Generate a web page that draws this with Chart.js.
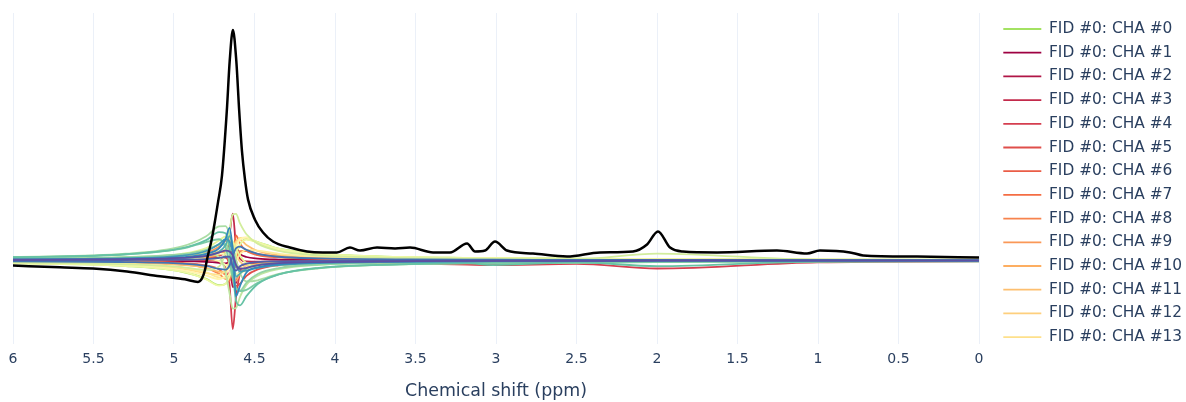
<!DOCTYPE html>
<html>
<head>
<meta charset="utf-8">
<script src="https://cdn.jsdelivr.net/npm/chart.js@4.4.1/dist/chart.umd.min.js"></script>
<style>
  html, body { margin: 0; padding: 0; background: #fff; }
  #wrap { width: 1186px; height: 402px; }
</style>
</head>
<body>
<div id="wrap"><canvas id="spectrum"></canvas></div>
<script>
// chemical shift axis (ppm)
const shiftTicks = [6, 5.5, 5, 4.5, 4, 3.5, 3, 2.5, 2, 1.5, 1, 0.5, 0];
const shiftGrid = [6, 5.3, 4.95, 4.8, 4.72, 4.68, 4.655, 4.635, 4.615, 4.59, 4.55, 4.48, 4.35, 4.1, 3.6, 3.18, 3.02, 2.5, 2.0, 1.0, 0];

// combined spectrum (black), arbitrary units
const shiftBlack = [6.0, 5.708, 5.503, 5.292, 5.087, 4.932, 4.851, 4.826, 4.807, 4.795, 4.766, 4.745, 4.727, 4.702,
  4.672, 4.654, 4.634, 4.613, 4.595, 4.578, 4.559, 4.540, 4.497, 4.447, 4.385, 4.280, 4.174, 4.075, 3.988, 3.907,
  3.845, 3.739, 3.627, 3.534, 3.391, 3.286, 3.180, 3.130, 3.068, 3.006, 2.932, 2.770, 2.559, 2.354, 2.149, 2.062,
  1.994, 1.919, 1.839, 1.627, 1.255, 1.068, 0.988, 0.801, 0.720, 0.385, 0];
const totalSignal = [-2.2, -3.0, -3.5, -4.8, -6.9, -8.2, -9.3, -7.8, -3.9, 0.4, 9.1, 17.3, 25.1, 36.8,
  64.9, 86.6, 100, 86.6, 64.9, 47.6, 35.1, 26.4, 17.7, 12.1, 8.2, 5.6, 3.9, 3.5, 3.5, 5.6,
  4.3, 5.6, 5.2, 5.6, 3.5, 3.5, 7.4, 3.9, 4.3, 8.2, 4.3, 3.0, 1.7, 3.5, 3.9, 6.9,
  12.6, 5.6, 3.9, 3.5, 4.3, 3.0, 4.3, 3.5, 2.2, 1.7, 1.3];

// per-channel spectra on shiftGrid
const chaValues = [
  [-1.2, -2.4, -4.9, -8.0, -10.7, -10.2, -7.4, -3.2, 2.0, 6.9, 9.3, 8.0, 5.1, 2.9, 1.5, 1.1, 1.0, 0.8, 0.6, 0.4, 0.3],
  [-0.1, -0.2, -0.3, -0.6, -1.0, -1.3, -0.5, 5.7, 5.8, 2.9, 1.5, 0.8, 0.4, 0.2, 0.1, 0.1, 0.1, 0.1, 0, 0, 0],
  [0.1, 0.2, 0.4, 0.8, 1.1, 1.2, -1.1, -11.6, -9.6, -4.5, -2.1, -1.0, -0.5, -0.3, -0.2, -0.1, -0.1, -0.1, 0, 0, 0],
  [0.1, 0.2, 0.3, 0.9, 2.0, 4.6, 11.4, 20.3, 6.4, 0.7, -0.4, -0.5, -0.4, -0.2, -0.1, -0.1, -0.1, -0.1, 0, 0, 0],
  [0.1, 0.1, 0.2, 0.1, -0.4, -2.5, -10.6, -29.8, -16.1, -5.6, -2.0, -1.0, -1.0, -1.0, -1.2, -1.8, -2.0, -1.5, -3.5, -0.8, -0.4],
  [0.4, 0.8, 1.5, 2.4, 3.2, 2.1, -1.9, -7.8, -11.1, -10.1, -6.7, -3.9, -2.1, -1.1, -0.5, -0.4, -0.4, -0.2, -0.2, -0.2, -0.1],
  [0.2, 0.3, 0.6, 1.1, 2.2, 3.9, 6.6, 4.6, -3.1, -2.9, -1.9, -1.1, -0.7, -0.4, -0.2, -0.2, -0.1, -0.1, -0.1, 0, 0],
  [-0.3, -0.5, -1.1, -2.2, -3.9, -6.5, -9.1, 0.9, 10.9, 7.3, 4.2, 2.3, 1.3, 0.7, 0.4, 0.3, 0.2, 0.2, 0.1, 0.1, 0.1],
  [-0.4, -0.8, -1.8, -3.3, -5.8, -8.0, -7.9, -4.2, 0.9, 4.0, 4.1, 2.9, 1.7, 1.0, 0.5, 0.4, 0.4, 0.2, 0.2, 0.2, 0.1],
  [0.4, 0.8, 1.8, 3.4, 6.0, 8.5, 8.7, 5.2, 0.0, -3.5, -3.9, -2.8, -1.7, -1.0, -0.5, -0.4, -0.4, -0.2, -0.2, -0.2, -0.1],
  [0.2, 0.4, 0.8, 1.5, 2.6, 4.2, 5.2, -3.2, -8.9, -5.5, -3.0, -1.6, -0.9, -0.5, -0.3, -0.2, -0.1, -0.1, -0.1, -0.1, -0.1],
  [-0.5, -1.0, -1.9, -3.2, -4.9, -5.0, -2.1, 3.7, 8.4, 9.0, 6.7, 4.1, 2.3, 1.2, 0.6, 0.4, 0.4, 0.3, 0.2, 0.2, 0.1],
  [0.4, 0.7, 1.5, 2.6, 3.9, 4.6, 4.8, 4.1, 2.1, -0.5, -2.1, -2.1, -1.4, -0.8, -0.5, -0.3, -0.3, -0.2, -0.2, -0.1, -0.1],
  [-1.0, -1.9, -3.6, -5.5, -6.2, -4.0, -0.2, 3.8, 7.4, 9.8, 9.9, 7.4, 4.4, 2.4, 1.2, 0.9, 0.8, 0.6, 0.5, 0.3, 0.2],
  [-0.7, -1.5, -3.1, -5.2, -7.4, -7.5, -5.8, -3.1, -0.2, 2.7, 4.6, 4.3, 2.9, 1.7, 0.9, 0.7, 0.6, 0.5, 0.4, 0.2, 0.2],
  [-1.1, -2.1, -4.2, -6.6, -8.1, -6.3, -2.5, 1.8, 5.9, 9.1, 10.0, 7.8, 4.8, 2.6, 1.4, 1.0, 0.9, 0.7, 0.5, 0.4, 0.3],
  [0.4, 0.7, 1.4, 2.3, 3.0, 2.6, 1.5, 0.1, -1.4, -2.5, -3.0, -2.5, -1.6, -0.9, -0.5, -0.3, -0.3, -0.2, -0.2, -0.1, -0.1],
  [0.2, 0.4, 0.7, 0.6, -0.3, -2.0, -3.7, -5.0, -5.7, -5.5, -4.4, -2.7, -1.4, -0.7, -0.4, -0.2, -0.2, -0.2, -0.1, -0.1, -0.1],
  [-1.2, -2.4, -4.9, -8.2, -10.9, -10.2, -6.8, -2.2, 2.6, 6.9, 9.0, 7.8, 5.1, 2.9, 1.5, 1.1, 1.0, 0.8, 0.6, 0.4, 0.3],
  [0.6, 1.3, 2.9, 5.4, 8.7, 10.4, 10.0, 8.1, 5.4, 2.0, -1.2, -2.4, -2.0, -1.3, -0.7, -0.6, -0.5, -0.4, -0.3, -0.2, -0.2],
  [-0.8, -1.7, -2.9, -4.1, -2.6, 3.7, 13.0, 19.9, 20.2, 16.1, 11.4, 7.3, 4.2, 2.2, 1.1, 0.8, 0.7, 0.6, 3.0, 0.3, 0.2],
  [0.7, 1.4, 2.5, 3.2, 1.4, -5.1, -14.3, -20.9, -20.6, -15.8, -10.6, -6.6, -3.8, -1.9, -0.9, -0.7, -0.6, -0.5, -0.4, -0.2, -0.2],
  [1.4, 2.9, 6.1, 10.5, 14.8, 14.9, 11.5, 6.2, 0.3, -5.5, -9.1, -8.6, -5.8, -3.4, -1.7, -1.3, -1.2, -1.0, -0.7, -0.5, -0.4],
  [0.7, 1.4, 2.7, 4.6, 6.9, 7.1, 2.8, -5.6, -12.2, -13.1, -9.6, -5.9, -3.3, -1.8, -0.9, -0.6, -0.6, -0.4, -0.3, -0.3, -0.2],
  [1.3, 2.6, 5.1, 8.0, 9.2, 5.7, -1.2, -7.8, -11.8, -13.3, -12.8, -9.7, -6.0, -3.3, -1.7, -1.2, -1.1, -0.9, -0.7, -0.4, -0.3],
  [1.4, 2.7, 5.3, 8.8, 12.3, 11.8, 5.7, -4.5, -17.5, -19.5, -15.5, -10.2, -6.1, -3.2, -1.7, -1.2, -2.0, -0.8, -2.5, -0.5, -0.4],
  [0.3, 0.5, 1.0, 2.0, 3.8, 6.6, 10.6, 5.0, -7.1, -5.7, -3.5, -2.0, -1.2, -0.6, -0.4, -0.3, -0.2, -0.2, -0.1, -0.1, -0.1],
  [0.5, 1.0, 2.1, 4.1, 7.1, 9.3, 8.2, 3.3, -2.1, -4.7, -4.4, -3.2, -2.0, -1.1, -0.6, -0.4, -0.4, -0.3, -0.2, -0.2, -0.1],
  [0.4, 0.7, 1.4, 2.9, 5.3, 9.2, 14.1, 4.4, -15.5, -11.0, -5.2, -3.0, -1.7, -0.9, -0.5, -0.4, -0.3, -0.3, -0.1, -0.1, -0.1],
  [-0.4, -0.7, -1.4, -2.4, -3.7, -4.0, -2.2, 1.8, 5.3, 6.0, 4.6, 2.9, 1.6, 0.9, 0.5, 0.3, 0.3, 0.2, 0.2, 0.2, 0.1],
  [0.1, 0.2, 0.3, 0.6, 1.1, 1.6, 1.7, -2.7, -4.4, -2.5, -1.4, -0.7, -0.4, -0.2, -0.1, -0.1, -0.1, -0.1, 0, 0, 0],
  [0.3, 0.6, 1.1, 2.0, 3.4, 4.3, 3.9, 2.2, -1.9, -3.7, -3.2, -2.1, -1.2, -0.7, -0.4, -0.2, -0.2, -0.2, -0.1, -0.1, -0.1]
];

const chaColors = ['#a3e262', '#9e0142', '#b01546', '#c32a4b', '#d53e4f', '#df4e4b', '#ea5d47', '#f46d43',
  '#f7834d', '#fa9857', '#fdae61', '#fdbf6f', '#fecf7d', '#fee08b', '#feea9c', '#fff5ae',
  '#ffffbf', '#f7fcb2', '#eef8a5', '#e6f598', '#d2ed9c', '#bfe5a0', '#abdda4', '#94d4a4',
  '#7dcba5', '#66c2a5', '#55afad', '#439bb5', '#3288bd', '#4175b4', '#4f62ab', '#5e4fa2'];

const LEGEND_SHOWN = 14; // plotly legend only fits the first 14 entries

Chart.defaults.font.family = '"DejaVu Sans", Verdana, sans-serif';
Chart.defaults.color = '#2a3f5f';

const datasets = chaValues.map((vals, i) => ({
  label: 'FID #0: CHA #' + i,
  data: shiftGrid.map((x, j) => ({ x: x, y: vals[j] })),
  borderColor: chaColors[i],
  backgroundColor: chaColors[i],
  borderWidth: 1.8,
  pointRadius: 0,
  cubicInterpolationMode: 'monotone',
  order: 100 - i
}));

datasets.push({
  label: 'FID #0: sum',
  data: shiftBlack.map((x, j) => ({ x: x, y: totalSignal[j] })),
  borderColor: '#000000',
  backgroundColor: '#000000',
  borderWidth: 2.5,
  pointRadius: 0,
  cubicInterpolationMode: 'monotone',
  order: 0
});

new Chart(document.getElementById('spectrum'), {
  type: 'line',
  data: { datasets: datasets },
  options: {
    responsive: true,
    maintainAspectRatio: false,
    animation: false,
    layout: { padding: { top: 13, left: 13, right: 0, bottom: 0 } },
    plugins: {
      tooltip: { enabled: false },
      legend: {
        position: 'right',
        align: 'start',
        maxWidth: 191,
        labels: {
          usePointStyle: true,
          pointStyle: 'line',
          pointStyleWidth: 38,
          padding: 8.3,
          color: '#2a3f5f',
          font: { size: 15.4 },
          filter: (item) => item.datasetIndex < LEGEND_SHOWN,
          sort: (a, b) => a.datasetIndex - b.datasetIndex
        }
      }
    },
    scales: {
      x: {
        type: 'linear',
        reverse: true,
        min: 0,
        max: 6,
        afterBuildTicks: (scale) => { scale.ticks = shiftTicks.map(v => ({ value: v })); },
        ticks: {
          autoSkip: false,
          maxRotation: 0,
          padding: 7,
          color: '#2a3f5f',
          font: { size: 14 },
          callback: (v) => String(v)
        },
        grid: { color: '#ebf0f8', lineWidth: 1, drawTicks: false },
        border: { display: false },
        title: {
          display: true,
          text: 'Chemical shift (ppm)',
          color: '#2a3f5f',
          font: { size: 17.4 },
          padding: { top: 6, bottom: 0 }
        }
      },
      y: {
        position: 'right',
        min: -36.4,
        max: 107.4,
        ticks: { display: false },
        grid: { display: false },
        border: { display: false },
        afterFit: (scale) => { scale.width = 16; }
      }
    }
  }
});
</script>
</body>
</html>
